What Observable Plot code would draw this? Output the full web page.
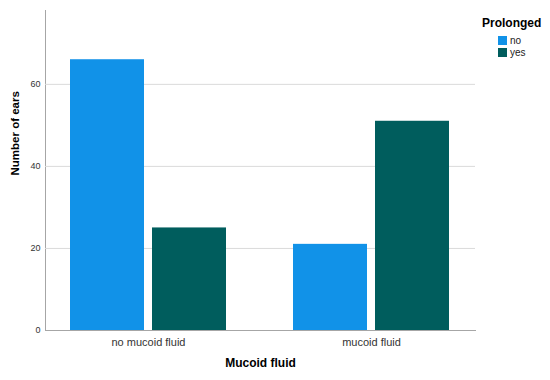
<!DOCTYPE html>
<html>
<head>
<meta charset="utf-8">
<script src="https://cdn.jsdelivr.net/npm/d3@7"></script>
<script src="https://cdn.jsdelivr.net/npm/@observablehq/plot@0.6"></script>
<style>
  html, body { margin: 0; padding: 0; background: #fff; }
  #wrap { position: relative; width: 550px; height: 380px; font-family: "Liberation Sans", Arial, sans-serif; }
  #legend { position: absolute; left: 482px; top: 16px; font-family: "Liberation Sans", Arial, sans-serif; }
  #legend .title { font-weight: bold; font-size: 12px; color: #000; margin-bottom: 4px; }
  #legend .item { display: flex; align-items: center; font-size: 10px; color: #222; height: 12px; margin-left: 16px; }
  #legend .sw { width: 9px; height: 9px; margin-right: 3px; }
</style>
</head>
<body>
<div id="wrap"><div id="chart"></div><div id="legend"></div></div>
<script>
const categories = ["no mucoid fluid", "mucoid fluid"];
const prolongedLevels = ["no", "yes"];
const countsNo = [66, 21];
const countsYes = [25, 51];
const yTicks = [0, 20, 40, 60];
const gridTicks = [20, 40, 60];
const colors = ["#1192e8", "#005d5d"];
const xTitle = "Mucoid fluid";
const yTitle = "Number of ears";
const legendTitle = "Prolonged";

const rowsNo = categories.map((c, i) => ({category: c, prolonged: "no", value: countsNo[i]}));
const rowsYes = categories.map((c, i) => ({category: c, prolonged: "yes", value: countsYes[i]}));

const chart = Plot.plot({
  width: 550,
  height: 380,
  marginLeft: 45,
  marginRight: 75,
  marginTop: 10,
  marginBottom: 50,
  style: {fontFamily: "Liberation Sans, Arial, sans-serif", background: "#fff", color: "#a6a6a6"},
  x: {domain: categories, paddingInner: 0.3, paddingOuter: 0.11, label: null, tickSize: 0, tickPadding: 8, line: true},
  y: {domain: [0, 78], ticks: yTicks, tickFormat: d => d, label: null, tickSize: 0, tickPadding: 5, line: true},
  color: {domain: prolongedLevels, range: colors},
  marks: [
    Plot.ruleY(gridTicks, {stroke: "#dadada", strokeWidth: 1}),
    Plot.barY(rowsNo, {x: "category", y: "value", fill: "prolonged", insetRight: 82}),
    Plot.barY(rowsYes, {x: "category", y: "value", fill: "prolonged", insetLeft: 82}),
    Plot.text([xTitle], {text: d => d, frameAnchor: "bottom", dy: 36, fontWeight: "bold", fontSize: 12, fill: "#000"}),
    Plot.text([yTitle], {text: d => d, frameAnchor: "left", dx: -30, dy: 5, rotate: -90, fontWeight: "bold", fontSize: 11.5, fill: "#000"})
  ]
});
document.getElementById("chart").appendChild(chart);

// style axes
chart.querySelectorAll('g[aria-label="y-axis tick label"]').forEach(el => { el.setAttribute("font-size", "9"); el.setAttribute("fill", "#333"); });
chart.querySelectorAll('g[aria-label="x-axis tick label"]').forEach(el => { el.setAttribute("font-size", "11"); el.setAttribute("fill", "#333"); });

const legend = document.getElementById("legend");
const t = document.createElement("div");
t.className = "title"; t.textContent = legendTitle; legend.appendChild(t);
prolongedLevels.forEach((p, i) => {
  const it = document.createElement("div"); it.className = "item";
  const sw = document.createElement("div"); sw.className = "sw"; sw.style.background = colors[i];
  const lb = document.createElement("span"); lb.textContent = p;
  it.appendChild(sw); it.appendChild(lb); legend.appendChild(it);
});
</script>
</body>
</html>
